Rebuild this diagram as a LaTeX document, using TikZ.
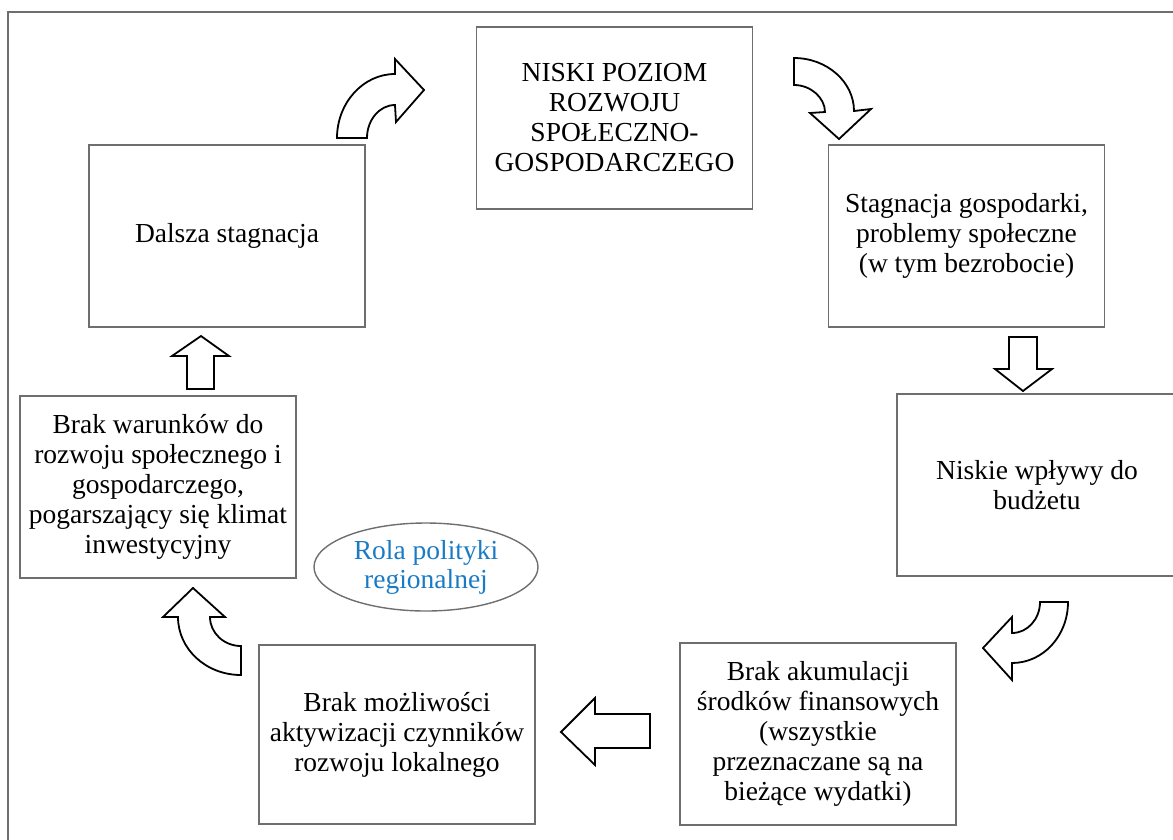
\documentclass[tikz,border=0pt]{standalone}
\usepackage{fontspec}
\setmainfont{Liberation Serif}
\usetikzlibrary{shapes.geometric}
\definecolor{boxgray}{HTML}{6E6E6E}
\definecolor{roleblue}{HTML}{1A7BC4}
\tikzset{
  box/.style={draw=boxgray, line width=1.4pt, minimum width=276pt, minimum height=182pt, inner sep=0pt, align=center, font=\fontsize{27.5}{30}\selectfont},
  blockarrow/.style={draw=black, line width=1.8pt, fill=white, line join=miter},
  frameline/.style={draw=boxgray, line width=1.4pt}
}
\begin{document}
\begin{tikzpicture}[x=1pt, y=-1pt]
\useasboundingbox (0,0) rectangle (1173,839);
% outer frame
\draw[frameline] (8,845) -- (8,12) -- (1180,12);
% boxes
\node[box] (top) at (614.5,118) {NISKI POZIOM\\ROZWOJU\\SPOŁECZNO-\\GOSPODARCZEGO};
\node[box] (dalsza) at (227,236) {Dalsza stagnacja};
\node[box] (stag) at (966.5,236) {Stagnacja gospodarki,\\problemy społeczne\\(w tym bezrobocie)};
\node[box, minimum width=280pt] (niskie) at (1037,485) {Niskie wpływy do\\budżetu};
\node[box] (warunki) at (158,487) {Brak warunków do\\rozwoju społecznego i\\gospodarczego,\\pogarszający się klimat\\inwestycyjny};
\node[box, minimum height=179pt] (mozl) at (397,734.5) {Brak możliwości\\aktywizacji czynników\\rozwoju lokalnego};
\node[box] (akum) at (818,734) {Brak akumulacji\\środków finansowych\\(wszystkie\\przeznaczane są na\\bieżące wydatki)};
% ellipse
\node[ellipse, draw=boxgray, line width=1.4pt, minimum width=224pt, minimum height=88pt, inner sep=0pt, align=center, text=roleblue, font=\fontsize{27.5}{29}\selectfont] (rola) at (426,567) {Rola polityki\\regionalnej};
% curved arrow: dalsza -> top
\draw[blockarrow] (337,138) .. controls (337,103) and (363,74) .. (395,74) -- (395,59) -- (424,90) -- (396,122) -- (395,105) .. controls (379.5,105) and (367,120) .. (367,138) -- cycle;
% curved arrow: top -> stag
\draw[blockarrow] (794,58) .. controls (827,58) and (854,82) .. (854,111) -- (871,109) -- (839,139) -- (810,113) -- (825,112) .. controls (825,98) and (811,85) .. (794,85) -- cycle;
% straight down arrow: stag -> niskie
\draw[blockarrow] (1009,337) -- (1037,337) -- (1037,369) -- (1052,369) -- (1023,391) -- (995,369) -- (1009,369) -- cycle;
% curved arrow: niskie -> akum
\draw[blockarrow] (1040,602) .. controls (1040,619) and (1027.5,633) .. (1012,633) -- (1012,617) -- (983,648) -- (1012,680) -- (1012,663) .. controls (1043,663) and (1068,636) .. (1068,602) -- cycle;
% straight left arrow: akum -> mozl
\draw[blockarrow] (650,714) -- (595,714) -- (595,698) -- (561,732) -- (595,765) -- (595,748) -- (650,748) -- cycle;
% curved arrow: mozl -> warunki
\draw[blockarrow] (241,675) .. controls (206,675) and (178,649) .. (178,617) -- (163,617) -- (193,588) -- (225,617) -- (210,617) .. controls (210,633) and (224,646) .. (241,646) -- cycle;
% straight up arrow: warunki -> dalsza
\draw[blockarrow] (187,389) -- (187,356) -- (172,356) -- (201,336) -- (229,356) -- (214,356) -- (214,389) -- cycle;
\end{tikzpicture}
\end{document}
